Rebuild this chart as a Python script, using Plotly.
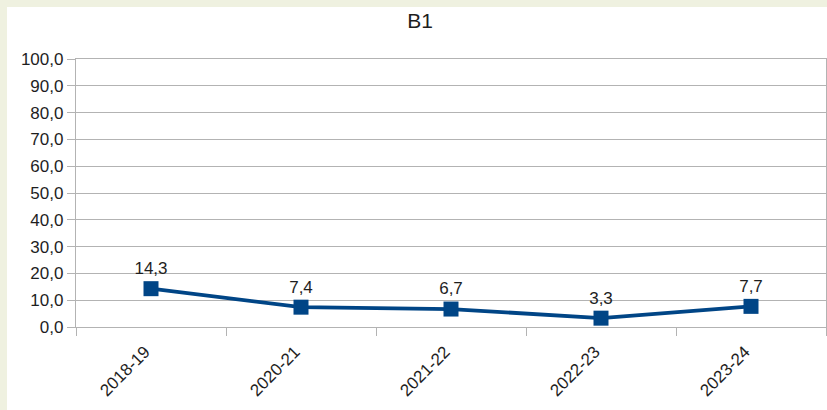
import plotly.graph_objects as go

# School years and B1 percentages
years = ["2018-19", "2020-21", "2021-22", "2022-23", "2023-24"]
b1_values = [14.3, 7.4, 6.7, 3.3, 7.7]

y_ticks = [0, 10, 20, 30, 40, 50, 60, 70, 80, 90, 100]

LINE_BLUE = "#004586"
GRID = "#b3b3b3"
TEXT = "#1e1e1e"
CREAM = "#eff1e0"
FONT = "Liberation Sans, Arial, sans-serif"

fig = go.Figure()
fig.add_trace(go.Scatter(
    x=years,
    y=b1_values,
    mode="lines+markers+text",
    line=dict(color=LINE_BLUE, width=3.8),
    marker=dict(symbol="square", size=15, color=LINE_BLUE),
    texttemplate="%{y:.1f}",
    textposition="top center",
    textfont=dict(family=FONT, size=17, color=TEXT),
    hoverinfo="skip",
    showlegend=False,
))

W, H = 827, 410
L, R, T, B = 76, 1, 59, 83
pw, ph = W - L - R, H - T - B

def px_x(px):
    return (px - L) / pw

def px_y(py):
    return (H - B - py) / ph

# thin cream strips along the left and top edges of the page
fig.add_shape(type="rect", xref="paper", yref="paper",
              x0=px_x(0), x1=px_x(7), y0=px_y(H), y1=px_y(0),
              fillcolor=CREAM, line_width=0, layer="below")
fig.add_shape(type="rect", xref="paper", yref="paper",
              x0=px_x(0), x1=px_x(W), y0=px_y(7), y1=px_y(0),
              fillcolor=CREAM, line_width=0, layer="below")

fig.update_layout(
    width=W, height=H,
    margin=dict(l=L, r=R, t=T, b=B, pad=0),
    paper_bgcolor="white",
    plot_bgcolor="white",
    separators=",.",
    font=dict(family=FONT, size=17, color=TEXT),
    title=dict(text="B1", x=420 / W, xref="container", xanchor="center",
               y=1 - 21 / H, yref="container", yanchor="middle",
               font=dict(family=FONT, size=21, color=TEXT)),
    xaxis=dict(
        type="category",
        tickson="boundaries",
        ticks="outside", ticklen=8, tickcolor=GRID, tickwidth=1.3,
        showgrid=False,
        showline=True, linecolor=GRID, linewidth=1.3, mirror=True,
        tickangle=-45,
        ticklabelstandoff=7,
        ticklabelshift=-6,
        tickfont=dict(family=FONT, size=17, color=TEXT),
        range=[-0.5, 4.5],
    ),
    yaxis=dict(
        range=[0, 100],
        tickvals=y_ticks,
        tickformat=".1f",
        ticks="outside", ticklen=8, tickcolor=GRID, tickwidth=1.3,
        showgrid=True, gridcolor=GRID, gridwidth=1.3,
        showline=True, linecolor=GRID, linewidth=1.3, mirror=True,
        zeroline=False,
        tickfont=dict(family=FONT, size=17, color=TEXT),
    ),
)

fig.write_html("out.html")
